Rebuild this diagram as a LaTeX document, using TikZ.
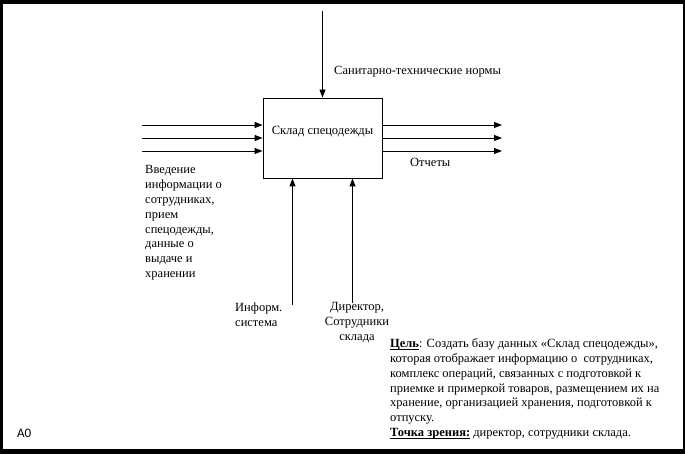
\documentclass[tikz,border=0pt]{standalone}
\usepackage{fontspec}
\setmainfont{Liberation Serif}
\newfontfamily\sansfont{Carlito}
\usetikzlibrary{arrows.meta}
\newcommand{\uhead}[1]{\underline{\smash{\textbf{#1}}}}
\tikzstyle{process} = [rectangle, draw=black, line width=0.9pt, minimum width=119pt, minimum height=80pt, inner sep=0pt, text height=9pt, text depth=15pt, font=\fontsize{12.5}{14.8}\selectfont]
\tikzstyle{arrow} = [line width=0.9pt,->,>={Triangle[length=8pt,width=6pt]}]
\tikzstyle{txt} = [inner sep=0pt, font=\fontsize{12.5}{14.8}\selectfont]

\begin{document}
\begin{tikzpicture}[x=1pt,y=-1pt]
        \useasboundingbox (0,0) rectangle (685,454);
        % frame
        \fill[black] (0,0) rectangle (685,454);
        \fill[white] (3,4) rectangle (683,449);
        % activity box
        \node (box) [process] at (322.5,138) {Склад спецодежды};
        % inputs, outputs, control, mechanisms
        \coordinate (in1) at (142,125);
        \coordinate (in2) at (142,138);
        \coordinate (in3) at (142,151);
        \coordinate (out1) at (502,125);
        \coordinate (out2) at (502,138);
        \coordinate (out3) at (502,151);
        \coordinate (ctrl) at (322.5,11);
        \coordinate (mech1) at (292.5,305);
        \coordinate (mech2) at (352.5,303);
        \draw [arrow] (in1) -- (in1 -| box.west);
        \draw [arrow] (in2) -- (in2 -| box.west);
        \draw [arrow] (in3) -- (in3 -| box.west);
        \draw [arrow] (box.east |- out1) -- (out1);
        \draw [arrow] (box.east |- out2) -- (out2);
        \draw [arrow] (box.east |- out3) -- (out3);
        \draw [arrow] (ctrl) -- (box.north);
        \draw [arrow] (mech1) -- (mech1 |- box.south);
        \draw [arrow] (mech2) -- (mech2 |- box.south);
        % labels
        \node (ctrltext) [txt, anchor=base west] at (334,75) {Санитарно-технические нормы};
        \node (outtext) [txt, anchor=base west] at (410,167) {Отчеты};
        \node (intext) [txt, anchor=north west, align=left] at (145,165.5) {Введение\\ информации о\\ сотрудниках,\\ прием\\ спецодежды,\\ данные о\\ выдаче и\\ хранении};
        \node (mech1text) [txt, anchor=north west, align=left] at (235,302.5) {Информ.\\ система};
        \node (mech2text) [txt, anchor=north, align=center] at (357,302.5) {Директор,\\ Сотрудники\\ склада};
        \node (goal) [txt, anchor=north west, align=left] at (390,338.5) {\uhead{Цель}: Создать базу данных «Склад спецодежды»,\\ которая отображает информацию о\ \ сотрудниках,\\ комплекс операций, связанных с подготовкой к\\ приемке и примеркой товаров, размещением их на\\ хранение, организацией хранения, подготовкой к\\ отпуску.\\ \uhead{Точка зрения:} директор, сотрудники склада.};
        \node (nodeid) [inner sep=0pt, anchor=base west, font=\sansfont\fontsize{13}{15}\selectfont] at (17,437) {A0};
    \end{tikzpicture}
\end{document}
